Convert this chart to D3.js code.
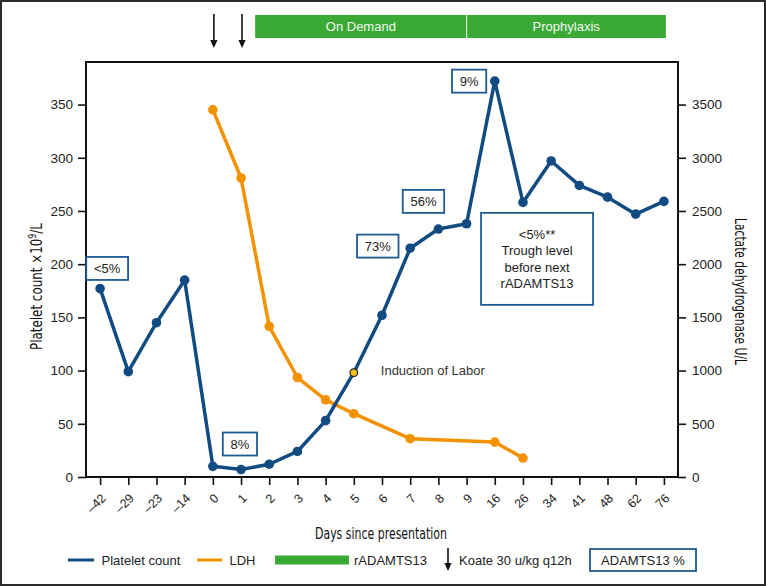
<!DOCTYPE html>
<html>
<head>
<meta charset="utf-8">
<script src="https://cdn.jsdelivr.net/npm/d3@7"></script>
<style>
  html, body { margin: 0; padding: 0; background: #fff; }
  svg { display: block; }
  text { font-family: "Liberation Sans", Arial, Helvetica, sans-serif; }
  .cond { font-family: "Liberation Sans Narrow", "Arial Narrow", "DejaVu Sans Condensed", "Liberation Sans", sans-serif; font-stretch: condensed; }
</style>
</head>
<body>
<script>
// ---------- data ----------
const days = ["-42","-29","-23","-14","0","1","2","3","4","5","6","7","8","9","16","26","34","41","48","62","76"];
const plateletCount = [177,99,145,185,10,7,12,24,53,98,152,215,233,238,372,258,297,274,263,247,259];
const ldhDays = ["0","1","2","3","4","5","7","16","26"];
const ldhValues = [3450,2810,1415,935,725,595,360,328,178];
const plateletTicks = [0,50,100,150,200,250,300,350];
const ldhTicks = [0,500,1000,1500,2000,2500,3000,3500];
const koateDays = ["0","1"];
// treatment periods in category-index units
const periodLabels = ["On Demand","Prophylaxis"];
const periodStart = [5.5, 13];
const periodEnd = [13, 20.07];
// ADAMTS13 annotations: category index + platelet-scale value (box centre)
const adamtsLabels = [["<5%"],["8%"],["73%"],["56%"],["9%"],["<5%**","Trough level","before next","rADAMTS13"]];
const adamtsIndex = [0.25, 4.96, 9.85, 11.47, 13.09, 15.5];
const adamtsValue = [196, 31, 217, 259, 372, 205];
const inductionDay = "5";
const inductionLabel = "Induction of Labor";

// ---------- layout ----------
const W = 766, H = 586;
const M = {left: 86, right: 88, top: 62, bottom: 109};
const iw = W - M.left - M.right, ih = H - M.top - M.bottom;
const BLUE = "#114b82", ORANGE = "#f39200", GREEN = "#3aaa35", BOXC = "#1d5a94";

const svg = d3.select("body").append("svg").attr("width", W).attr("height", H);
svg.append("rect").attr("x",1).attr("y",1).attr("width",W-2).attr("height",H-2)
  .attr("fill","#fff").attr("stroke","#2a2a2a").attr("stroke-width",2);

const x = d3.scalePoint().domain(days).range([M.left, M.left+iw]).padding(0.5);
const step = x.step();
const xi = i => x(days[0]) + i*step;
const yL = d3.scaleLinear().domain([0,390]).range([M.top+ih, M.top]);
const yR = d3.scaleLinear().domain([0,3900]).range([M.top+ih, M.top]);

// axes
const fmt = d => d.replace("-", "\u2013");
const gx = svg.append("g").attr("transform",`translate(0,${M.top+ih})`)
  .call(d3.axisBottom(x).tickSize(8).tickFormat(fmt));
gx.selectAll("text").attr("text-anchor","end").attr("y",0).attr("dy",0)
  .attr("transform", d => `translate(6,22) rotate(-45)`)
  .style("font-size","12.5px").attr("fill","#222");
const gl = svg.append("g").attr("transform",`translate(${M.left},0)`)
  .call(d3.axisLeft(yL).tickValues(plateletTicks).tickSize(8).tickPadding(5));
gl.selectAll("text").style("font-size","13.5px").attr("fill","#222");
const gr = svg.append("g").attr("transform",`translate(${M.left+iw},0)`)
  .call(d3.axisRight(yR).tickValues(ldhTicks).tickSize(8).tickPadding(6).tickFormat(d3.format("d")));
gr.selectAll("text").style("font-size","13.5px").attr("fill","#222");
[gx,gl,gr].forEach(g => { g.select(".domain").remove(); g.selectAll("line").attr("stroke","#111").attr("stroke-width",1.6); });
svg.append("rect").attr("x",M.left).attr("y",M.top).attr("width",iw).attr("height",ih)
  .attr("fill","none").attr("stroke","#111").attr("stroke-width",2);

// axis titles
const yt = svg.append("text").attr("class","cond")
  .attr("transform",`translate(42,286.5) rotate(-90)`).attr("text-anchor","middle")
  .style("font-size","16.5px").attr("fill","#111").attr("textLength",127).attr("lengthAdjust","spacingAndGlyphs");
yt.append("tspan").text("Platelet count \u00d710");
yt.append("tspan").attr("dy",-6).style("font-size","11px").text("9");
yt.append("tspan").attr("dy",6).text("/L");
svg.append("text").attr("class","cond")
  .attr("transform",`translate(735,291.5) rotate(90)`).attr("text-anchor","middle")
  .style("font-size","16.5px").attr("fill","#111").attr("textLength",147).attr("lengthAdjust","spacingAndGlyphs")
  .text("Lactate dehydrogenase U/L");
svg.append("text").attr("class","cond").attr("x",381).attr("y",539).attr("text-anchor","middle")
  .style("font-size","16.5px").attr("fill","#111").attr("textLength",132).attr("lengthAdjust","spacingAndGlyphs")
  .text("Days since presentation");

// lines
const plData = days.map((d,i)=>({d, v: plateletCount[i]}));
const ldhData = ldhDays.map((d,i)=>({d, v: ldhValues[i]}));
svg.append("path").datum(ldhData).attr("fill","none").attr("stroke",ORANGE).attr("stroke-width",3.5)
  .attr("stroke-linejoin","round")
  .attr("d", d3.line().x(p=>x(p.d)).y(p=>yR(p.v)));
svg.selectAll(".ldhpt").data(ldhData).enter().append("circle")
  .attr("cx",p=>x(p.d)).attr("cy",p=>yR(p.v)).attr("r",4.8).attr("fill",ORANGE);
svg.append("path").datum(plData).attr("fill","none").attr("stroke",BLUE).attr("stroke-width",3.5)
  .attr("stroke-linejoin","round")
  .attr("d", d3.line().x(p=>x(p.d)).y(p=>yL(p.v)));
svg.selectAll(".plpt").data(plData.filter(p=>p.d!==inductionDay)).enter().append("circle")
  .attr("cx",p=>x(p.d)).attr("cy",p=>yL(p.v)).attr("r",4.8).attr("fill",BLUE);
const ind = plData.find(p=>p.d===inductionDay);
svg.append("circle").attr("cx",x(ind.d)).attr("cy",yL(ind.v)).attr("r",3.8)
  .attr("fill","#f7c21a").attr("stroke","#222").attr("stroke-width",1.3);
svg.append("text").attr("x",x(ind.d)+27).attr("y",yL(ind.v)-2).attr("dy","0.36em")
  .style("font-size","13px").attr("fill","#333").text(inductionLabel);

// ADAMTS13 boxes
adamtsLabels.forEach((lines,k)=>{
  const cx = xi(adamtsIndex[k]), cy = yL(adamtsValue[k]);
  const g = svg.append("g");
  const lh = 16.5;
  const t = g.append("text").attr("text-anchor","middle").style("font-size","13px").attr("fill","#222");
  lines.forEach((s,j)=>{
    t.append("tspan").attr("x",cx).attr("y", cy + (j-(lines.length-1)/2)*lh).attr("dy","0.36em").text(s);
  });
  const bb = t.node().getBBox();
  const multi = lines.length>1;
  const bw = multi ? 112 : bb.width + 15;
  const bh = multi ? 92 : 23;
  g.insert("rect","text").attr("x",cx-bw/2).attr("y",cy-bh/2).attr("width",bw).attr("height",bh)
    .attr("fill","#fff").attr("stroke",BOXC).attr("stroke-width",1.8);
});

// treatment bars
periodLabels.forEach((lab,k)=>{
  const x0 = xi(periodStart[k]), x1 = xi(periodEnd[k]);
  svg.append("rect").attr("x",x0).attr("y",15).attr("width",x1-x0).attr("height",23).attr("fill",GREEN);
  svg.append("text").attr("x",(x0+x1)/2).attr("y",26.5).attr("dy","0.36em").attr("text-anchor","middle")
    .style("font-size","13px").attr("fill","#f2f7f2").text(lab);
});
for (let k=1;k<periodLabels.length;k++){
  const xb = xi(periodStart[k]);
  svg.append("line").attr("x1",xb).attr("x2",xb).attr("y1",15).attr("y2",38).attr("stroke","#d8efd6").attr("stroke-width",1.2);
}

// arrows
function arrow(xp, y0, y1){
  svg.append("line").attr("x1",xp).attr("x2",xp).attr("y1",y0).attr("y2",y1-6).attr("stroke","#111").attr("stroke-width",1.6);
  svg.append("path").attr("d",`M${xp-3.6},${y1-8} L${xp+3.6},${y1-8} L${xp},${y1} Z`).attr("fill","#111");
}
koateDays.forEach(d => arrow(x(d)+1, 14, 48));

// legend
const ly = 560;
const lg = svg.append("g");
lg.append("line").attr("x1",68).attr("x2",94).attr("y1",ly).attr("y2",ly).attr("stroke",BLUE).attr("stroke-width",3);
lg.append("text").attr("x",101.5).attr("y",ly).attr("dy","0.36em").style("font-size","13px").attr("fill","#222").text("Platelet count");
lg.append("line").attr("x1",197).attr("x2",222).attr("y1",ly).attr("y2",ly).attr("stroke",ORANGE).attr("stroke-width",3);
lg.append("text").attr("x",229.5).attr("y",ly).attr("dy","0.36em").style("font-size","13px").attr("fill","#222").text("LDH");
lg.append("rect").attr("x",275).attr("y",ly-4.5).attr("width",74).attr("height",9).attr("fill",GREEN);
lg.append("text").attr("x",354).attr("y",ly).attr("dy","0.36em").style("font-size","13px").attr("fill","#222").text("rADAMTS13");
arrow(448, ly-12, ly+11);
lg.append("text").attr("x",459).attr("y",ly).attr("dy","0.36em").style("font-size","13px").attr("fill","#222").text("Koate 30 u/kg q12h");
lg.append("rect").attr("x",590).attr("y",ly-11).attr("width",106).attr("height",22).attr("fill","#fff").attr("stroke",BOXC).attr("stroke-width",1.8);
lg.append("text").attr("x",643).attr("y",ly).attr("dy","0.36em").attr("text-anchor","middle").style("font-size","13px").attr("fill","#222").text("ADAMTS13 %");
</script>
</body>
</html>
